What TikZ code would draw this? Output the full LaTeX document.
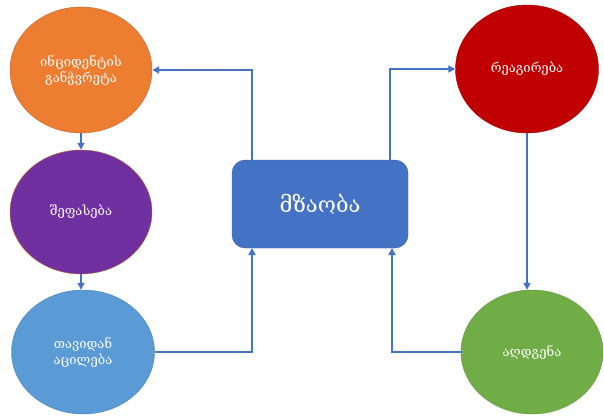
\documentclass[tikz,border=0pt]{standalone}
\usepackage{fontspec}
\newfontfamily\geo{DejaVu Serif}
\usetikzlibrary{arrows.meta,shapes.geometric}
\definecolor{cOrange}{HTML}{ED7D31}
\definecolor{cPurple}{HTML}{7030A0}
\definecolor{cLblue}{HTML}{5B9BD5}
\definecolor{cBlue}{HTML}{4472C4}
\definecolor{cRed}{HTML}{C00000}
\definecolor{cGreen}{HTML}{70AD47}
\tikzset{
  circ/.style={ellipse, minimum width=#1, text=white, font=\geo\fontsize{13}{16}\selectfont, align=center, inner sep=0pt},
  conn/.style={draw=cBlue, line width=1.8pt, -{Triangle[length=7pt,width=7pt]}},
}
\begin{document}
\begin{tikzpicture}[x=1pt,y=-1pt]
\useasboundingbox (0,0) rectangle (604,415);
\node[circ=142pt, minimum height=126pt, fill=cOrange, draw=cOrange!80!black, thin] (inc) at (81,70) {ინციდენტის\\განჭვრეტა};
\node[circ=142pt, minimum height=124pt, fill=cPurple, draw=cOrange!80!black, thin] (shef) at (81,212) {შეფასება};
\node[circ=143pt, minimum height=124pt, fill=cLblue, draw=cLblue!85!black, thin] (tav) at (83,352) {თავიდან\\აცილება};
\node[circ=143pt, minimum height=128pt, fill=cRed, draw=cRed!85!black, thin] (rea) at (527,69) {რეაგირება};
\node[circ=142pt, minimum height=124pt, fill=cGreen, draw=cGreen!85!black, thin] (agd) at (532,352) {აღდგენა};
\node[rectangle, rounded corners=13pt, minimum width=176pt, minimum height=88pt, fill=cBlue, draw=cBlue!85!black, thin, text=white, font=\geo\fontsize{22}{26}\selectfont] (mza) at (320,204) {მზაობა};
\coordinate (mtl) at (252,160);
\coordinate (mtr) at (390,160);
\coordinate (mbl) at (252,248);
\coordinate (mbr) at (392,248);
\draw[conn] (mtl) |- (inc.east);
\draw[conn] (mtr) |- (rea.west);
\draw[conn] (rea.south) -- (rea.south |- agd.north);
\draw[conn] (agd.west) -| (mbr);
\draw[conn] (tav.east) -| (mbl);
\draw[conn] (inc.south) -- (shef.north);
\draw[conn] (shef.south) -- (shef.south |- tav.north);
\end{tikzpicture}
\end{document}
